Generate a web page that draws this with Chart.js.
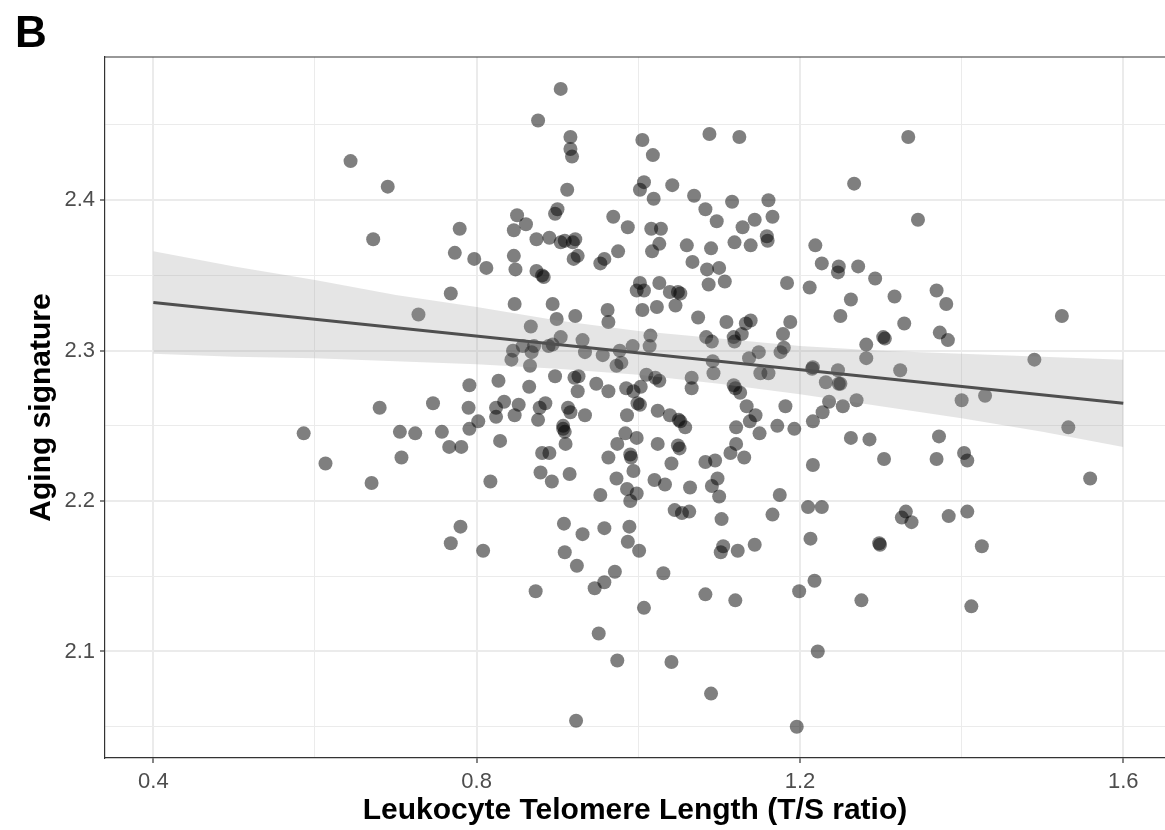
<!DOCTYPE html>
<html>
<head>
<meta charset="utf-8">
<script src="https://cdn.jsdelivr.net/npm/chart.js@4.4.1/dist/chart.umd.min.js"></script>
<style>
  body { margin: 0; background: #fff; }
  #wrap { width: 1165px; height: 830px; }
</style>
</head>
<body>
<div id="wrap"><canvas id="myChart" width="1165" height="830"></canvas></div>
<script>
// telomere length (T/S ratio) per subject
var telomere = [
  0.644, 0.690, 0.672, 0.779, 0.773, 0.768, 0.904, 0.876, 0.916, 0.916,
  0.918, 1.005, 1.018, 1.088, 1.125, 0.912, 1.007, 1.002, 1.042, 1.019,
  1.069, 1.116, 1.161, 0.850, 0.861, 0.846, 0.900, 0.897, 0.969, 0.987,
  1.016, 1.028, 1.083, 1.097, 1.129, 1.144, 1.166, 0.797, 0.812, 0.846,
  0.848, 0.874, 0.890, 0.904, 0.909, 0.919, 0.922, 0.920, 0.925, 0.953,
  0.958, 0.975, 1.026, 1.017, 1.060, 1.090, 1.067, 1.085, 1.100, 1.119,
  1.139, 1.159, 1.160, 0.874, 0.881, 0.883, 1.002, 0.998, 1.007, 1.026,
  1.039, 1.049, 1.052, 1.087, 1.107, 1.184, 1.334, 1.267, 1.346, 1.219,
  1.227, 1.248, 1.247, 1.272, 1.293, 1.212, 1.263, 1.317, 1.369, 1.381,
  0.728, 0.680, 0.746, 0.586, 0.705, 0.724, 0.757, 0.766, 0.781, 0.707,
  0.613, 0.670, 0.847, 0.894, 0.962, 0.963, 1.005, 1.023, 1.046, 0.899,
  0.922, 0.867, 1.074, 1.109, 1.133, 1.139, 1.188, 1.015, 1.014, 1.179,
  0.904, 0.931, 1.084, 1.091, 1.118, 1.119, 1.128, 0.845, 0.843, 0.857,
  0.868, 0.871, 0.889, 0.894, 0.934, 0.956, 0.977, 0.993, 0.973, 0.979,
  0.866, 1.092, 1.093, 1.137, 1.149, 1.176, 1.180, 1.151, 1.161, 0.897,
  0.921, 0.926, 0.827, 0.791, 0.865, 0.925, 0.948, 0.963, 0.985, 0.994,
  1.003, 1.010, 1.021, 1.026, 1.066, 1.066, 1.118, 1.120, 1.126, 0.790,
  0.824, 0.824, 0.834, 0.852, 0.847, 0.878, 0.885, 0.876, 0.913, 0.916,
  0.934, 0.999, 1.002, 0.986, 1.024, 1.039, 1.050, 1.052, 1.058, 1.134,
  1.145, 1.138, 1.182, 1.121, 1.150, 1.172, 1.193, 0.791, 0.802,
  0.907, 0.907, 0.909, 0.984, 0.998, 0.974, 1.024, 1.049, 1.051, 1.121,
  1.114, 1.131, 0.829, 0.881, 0.890, 0.910, 0.963, 0.990, 0.991, 1.041,
  1.083, 1.095, 0.879, 0.893, 0.915, 0.817, 0.973, 0.994, 1.020, 1.033,
  1.064, 1.091, 1.098, 0.986, 0.998, 0.990, 0.953, 1.100, 1.175, 1.045,
  1.054, 1.063, 1.103, 1.166, 0.780, 0.908, 0.958, 0.989, 1.250, 1.524,
  1.329, 1.373, 1.383, 1.303, 1.305, 1.282, 1.282, 1.490, 1.215, 1.216,
  1.247, 1.324, 1.232, 1.248, 1.250, 1.429, 1.400, 1.270, 1.236, 1.253,
  1.228, 1.216, 1.532, 1.263, 1.286, 1.372, 1.216, 1.304, 1.369, 1.403,
  1.407, 1.559, 1.210, 1.227, 1.331, 1.326, 1.338, 1.384, 1.407, 1.213,
  1.298, 1.299, 1.425, 1.218, 1.199, 1.276, 1.412, 1.222, 1.196, 0.768,
  0.808, 0.931, 0.987, 1.001, 0.909, 0.924, 0.971, 0.958, 0.946, 0.873,
  1.031, 1.105, 1.102, 1.123, 1.144, 1.083, 1.120, 1.007, 0.951, 0.974,
  1.041, 1.090, 0.923
];

// aging signature per subject (same order)
var agingSignature = [
  2.426, 2.409, 2.374, 2.381, 2.365, 2.338, 2.474, 2.453, 2.442, 2.434,
  2.429, 2.440, 2.430, 2.444, 2.442, 2.407, 2.412, 2.407, 2.410, 2.401,
  2.403, 2.399, 2.400, 2.390, 2.384, 2.380, 2.394, 2.391, 2.389, 2.382,
  2.381, 2.381, 2.394, 2.386, 2.382, 2.387, 2.389, 2.361, 2.355, 2.363,
  2.354, 2.374, 2.375, 2.372, 2.373, 2.372, 2.374, 2.361, 2.363, 2.358,
  2.361, 2.366, 2.371, 2.366, 2.370, 2.368, 2.359, 2.354, 2.355, 2.372,
  2.370, 2.376, 2.373, 2.353, 2.350, 2.349, 2.345, 2.340, 2.340, 2.345,
  2.339, 2.339, 2.338, 2.344, 2.346, 2.345, 2.442, 2.411, 2.387, 2.370,
  2.358, 2.356, 2.352, 2.356, 2.348, 2.342, 2.334, 2.336, 2.340, 2.331,
  2.324, 2.262, 2.265, 2.245, 2.246, 2.245, 2.246, 2.236, 2.236, 2.229,
  2.225, 2.212, 2.331, 2.331, 2.327, 2.319, 2.327, 2.329, 2.330, 2.321,
  2.323, 2.316, 2.322, 2.319, 2.318, 2.320, 2.319, 2.310, 2.303, 2.311,
  2.309, 2.307, 2.309, 2.306, 2.309, 2.306, 2.311, 2.300, 2.294, 2.303,
  2.299, 2.303, 2.303, 2.304, 2.299, 2.297, 2.300, 2.303, 2.290, 2.292,
  2.290, 2.293, 2.285, 2.295, 2.299, 2.299, 2.302, 2.285, 2.285, 2.283,
  2.282, 2.283, 2.280, 2.277, 2.276, 2.273, 2.278, 2.273, 2.275, 2.273,
  2.276, 2.284, 2.282, 2.280, 2.282, 2.275, 2.277, 2.275, 2.272, 2.262,
  2.262, 2.256, 2.266, 2.264, 2.257, 2.262, 2.265, 2.254, 2.262, 2.259,
  2.257, 2.265, 2.264, 2.257, 2.260, 2.257, 2.254, 2.253, 2.249, 2.263,
  2.257, 2.253, 2.263, 2.249, 2.245, 2.250, 2.248, 2.248, 2.253,
  2.250, 2.248, 2.246, 2.245, 2.242, 2.238, 2.238, 2.237, 2.235, 2.238,
  2.232, 2.229, 2.240, 2.232, 2.232, 2.238, 2.229, 2.231, 2.229, 2.225,
  2.226, 2.227, 2.219, 2.213, 2.218, 2.213, 2.215, 2.220, 2.214, 2.211,
  2.209, 2.210, 2.215, 2.208, 2.205, 2.200, 2.204, 2.203, 2.204, 2.194,
  2.192, 2.193, 2.188, 2.191, 2.183, 2.185, 2.182, 2.183, 2.323, 2.323,
  2.318, 2.312, 2.307, 2.309, 2.308, 2.304, 2.295, 2.294, 2.288, 2.289,
  2.287, 2.287, 2.279, 2.278, 2.278, 2.270, 2.267, 2.267, 2.266, 2.263,
  2.259, 2.253, 2.249, 2.242, 2.241, 2.243, 2.224, 2.228, 2.228, 2.232,
  2.227, 2.215, 2.196, 2.196, 2.193, 2.189, 2.186, 2.190, 2.193, 2.175,
  2.172, 2.171, 2.170, 2.147, 2.140, 2.134, 2.130, 2.100, 2.050, 2.172,
  2.167, 2.178, 2.173, 2.167, 2.166, 2.157, 2.153, 2.146, 2.142, 2.140,
  2.152, 2.170, 2.166, 2.167, 2.171, 2.138, 2.134, 2.129, 2.112, 2.094,
  2.093, 2.072, 2.054
];

// linear fit and its confidence band
var fitX = [0.4, 1.6];
var fitY = [2.332, 2.265];
var bandX = [0.4, 0.5, 0.6, 0.7, 0.8, 0.9, 1.0, 1.1, 1.2, 1.3, 1.4, 1.5, 1.6];
var bandUpper = [2.366, 2.356, 2.347, 2.337, 2.329, 2.320, 2.313, 2.308, 2.303, 2.300, 2.298, 2.296, 2.294];
var bandLower = [2.298, 2.296, 2.295, 2.293, 2.291, 2.288, 2.284, 2.278, 2.271, 2.263, 2.255, 2.246, 2.236];

var xTickLabels = ['0.4', '0.8', '1.2', '1.6'];
var yTickLabels = ['2.1', '2.2', '2.3', '2.4'];

function pairs(xs, ys) {
    return xs.map(function (x, i) { return { x: x, y: ys[i] }; });
}

function majorLabel(v, labels) {
    var s = v.toFixed(1);
    return (labels.indexOf(s) >= 0 && Math.abs(v - parseFloat(s)) < 1e-6) ? s : '';
}

var FONT = "'Liberation Sans', Arial, Helvetica, sans-serif";

// ggplot-like top border of the panel
var panelTop = {
    id: 'panelTop',
    afterDatasetsDraw: function (chart) {
        var a = chart.chartArea, c = chart.ctx;
        c.save();
        c.strokeStyle = '#333333';
        c.lineWidth = 1.2;
        c.beginPath();
        c.moveTo(a.left, a.top);
        c.lineTo(a.right, a.top);
        c.stroke();
        c.restore();
    }
};

function gridFor(labels) {
    return {
        color: '#ebebeb',
        lineWidth: function (ctx) { return majorLabel(ctx.tick.value, labels) ? 2 : 1; },
        tickColor: function (ctx) { return majorLabel(ctx.tick.value, labels) ? '#333333' : 'rgba(0,0,0,0)'; },
        tickLength: 5,
        tickWidth: 1.2
    };
}

var ctx = document.getElementById('myChart').getContext('2d');
var chart = new Chart(ctx, {
    type: 'scatter',
    data: {
        datasets: [{
            // regression line
            data: pairs(fitX, fitY),
            showLine: true,
            borderColor: '#4f4f4f',
            borderWidth: 3,
            pointRadius: 0,
            fill: false
        }, {
            data: pairs(bandX, bandUpper),
            showLine: true,
            borderColor: 'rgba(0,0,0,0)',
            borderWidth: 1,
            pointRadius: 0,
            backgroundColor: 'rgba(153,153,153,0.25)',
            fill: '+1'
        }, {
            data: pairs(bandX, bandLower),
            showLine: true,
            borderColor: 'rgba(0,0,0,0)',
            borderWidth: 1,
            pointRadius: 0,
            fill: false
        }, {
            data: pairs(telomere, agingSignature),
            pointRadius: 7,
            pointHoverRadius: 7,
            pointBorderWidth: 0,
            pointBackgroundColor: 'rgba(0,0,0,0.5)',
            pointBorderColor: 'rgba(0,0,0,0)'
        }]
    },
    options: {
        responsive: false,
        animation: false,
        events: [],
        layout: { autoPadding: false, padding: { left: 15, right: 0, top: 0, bottom: 0 } },
        plugins: {
            legend: { display: false },
            tooltip: { enabled: false },
            title: {
                display: true,
                text: 'B',
                align: 'start',
                color: '#000000',
                font: { family: FONT, size: 44, weight: 'bold', lineHeight: 1 },
                padding: { top: 13, bottom: 0 }
            }
        },
        scales: {
            x: {
                type: 'linear',
                min: 0.3402,
                max: 1.6516,
                afterFit: function (s) { s.height = 72; s.paddingLeft = 0; s.paddingRight = 0; },
                border: { display: true, color: '#333333', width: 1.2 },
                grid: gridFor(xTickLabels),
                ticks: {
                    stepSize: 0.2,
                    includeBounds: false,
                    autoSkip: false,
                    maxRotation: 0,
                    padding: 6,
                    color: '#4d4d4d',
                    font: { family: FONT, size: 22 },
                    callback: function (v) { return majorLabel(v, xTickLabels); }
                },
                title: {
                    display: true,
                    text: 'Leukocyte Telomere Length (T/S ratio)',
                    color: '#000000',
                    font: { family: FONT, size: 30, weight: 'bold' },
                    padding: { top: 0, bottom: 1 }
                }
            },
            y: {
                type: 'linear',
                min: 2.0292,
                max: 2.4952,
                afterFit: function (s) { s.width = 90; },
                border: { display: true, color: '#333333', width: 1.2 },
                grid: gridFor(yTickLabels),
                ticks: {
                    stepSize: 0.05,
                    includeBounds: false,
                    autoSkip: false,
                    padding: 5,
                    color: '#4d4d4d',
                    font: { family: FONT, size: 22 },
                    callback: function (v) { return majorLabel(v, yTickLabels); }
                },
                title: {
                    display: true,
                    text: 'Aging signature',
                    color: '#000000',
                    font: { family: FONT, size: 30, weight: 'bold' },
                    padding: { top: 9, bottom: 0 }
                }
            }
        }
    },
    plugins: [panelTop]
});
</script>
</body>
</html>
